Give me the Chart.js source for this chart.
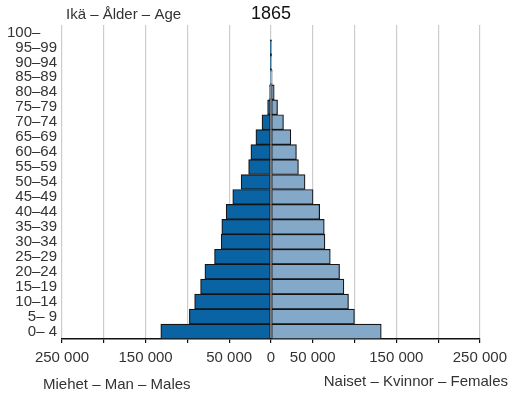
<!DOCTYPE html>
<html>
<head>
<meta charset="utf-8">
<script src="https://cdn.jsdelivr.net/npm/chart.js@4"></script>
<style>
  html, body { margin: 0; padding: 0; background: #fff; }
  canvas { display: block; }
</style>
</head>
<body>
<canvas id="chart" width="513" height="397"></canvas>
<script>
// Ikäryhmät alhaalta ylös
const ageGroups = ['0– 4', '5– 9', '10–14', '15–19', '20–24', '25–29', '30–34', '35–39', '40–44', '45–49',
  '50–54', '55–59', '60–64', '65–69', '70–74', '75–79', '80–84', '85–89', '90–94', '95–99', '100–    '];
const males = [131800, 97600, 91300, 84200, 79000, 67500, 59500, 58800, 53600, 45700,
  35700, 26700, 24000, 18000, 10700, 4000, 1700, 700, 150, 20, 0];
const females = [132000, 99900, 92800, 87300, 82100, 71000, 64600, 63800, 58300, 50400,
  40800, 32900, 30500, 23800, 15000, 7900, 3900, 1500, 400, 50, 0];
const shownTicks = [-250000, -150000, -50000, 0, 50000, 150000, 250000];

const font = "'Liberation Sans', Arial, sans-serif";
const textColor = '#333';

// tekstit otsikoihin
const labelsPlugin = {
  id: 'labels',
  afterDraw(chart) {
    const ctx = chart.ctx;
    ctx.save();
    ctx.fillStyle = textColor;
    ctx.textBaseline = 'middle';
    ctx.font = '15px ' + font;
    ctx.textAlign = 'left';
    ctx.fillText('Ikä – Ålder – Age', 66, 15);
    ctx.fillText('Miehet – Man – Males', 43, 385);
    ctx.textAlign = 'right';
    ctx.fillText('Naiset – Kvinnor – Females', 508, 382);
    ctx.fillStyle = '#111';
    ctx.font = '18px ' + font;
    ctx.textAlign = 'center';
    ctx.fillText('1865', 271, 14);
    ctx.restore();
  }
};

const fmt = v => Math.abs(v).toString().replace(/\B(?=(\d{3})+(?!\d))/g, ' ');

new Chart(document.getElementById('chart'), {
  type: 'bar',
  data: {
    labels: ageGroups,
    datasets: [
      {
        label: 'Miehet',
        data: males.map(v => -v),
        backgroundColor: '#0a63a2',
        borderColor: '#151515',
        borderWidth: 1.2,
        borderSkipped: false,
        barPercentage: 1,
        categoryPercentage: 1
      },
      {
        label: 'Naiset',
        data: females,
        backgroundColor: '#84a8c7',
        borderColor: '#151515',
        borderWidth: 1.2,
        borderSkipped: false,
        barPercentage: 1,
        categoryPercentage: 1
      }
    ]
  },
  options: {
    indexAxis: 'y',
    responsive: false,
    animation: false,
    layout: { padding: { top: 25, right: 32, left: 0, bottom: 0 } },
    plugins: {
      legend: { display: false },
      tooltip: { enabled: false }
    },
    scales: {
      x: {
        stacked: true,
        min: -250000,
        max: 250000,
        afterFit(scale) { scale.height = 58; },
        afterBuildTicks(scale) {
          scale.ticks = [];
          for (let v = -250000; v <= 250000; v += 50000) scale.ticks.push({ value: v });
        },
        ticks: {
          autoSkip: false,
          maxRotation: 0,
          padding: 6,
          color: textColor,
          font: { family: font, size: 15 },
          callback: v => shownTicks.includes(v) ? fmt(v) : ''
        },
        grid: {
          color: '#cccccc',
          lineWidth: 1.2,
          tickLength: 4,
          tickColor: '#111'
        },
        border: { display: true, color: '#111', width: 1.5 }
      },
      y: {
        stacked: true,
        reverse: true,
        afterFit(scale) { scale.width = 62; },
        ticks: {
          padding: 5,
          color: textColor,
          autoSkip: false,
          font: { family: font, size: 15 }
        },
        grid: { display: false, drawTicks: false },
        border: { display: false }
      }
    }
  },
  plugins: [labelsPlugin]
});
</script>
</body>
</html>
